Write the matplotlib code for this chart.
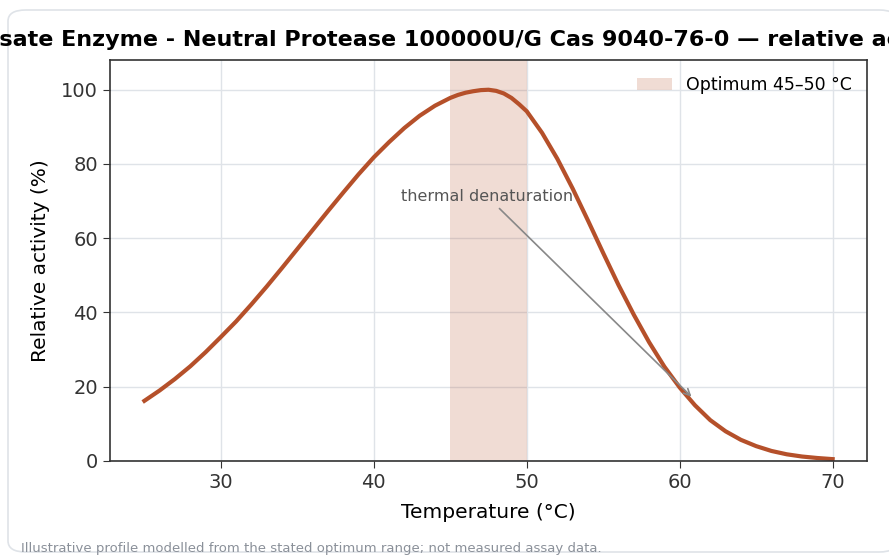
import matplotlib.pyplot as plt
from matplotlib.patches import FancyBboxPatch

# temperature (°C) and relative activity (%)
temps = [25, 26, 27, 28, 29, 30, 31, 32, 33, 34, 35, 36, 37, 38, 39, 40,
         41, 42, 43, 44, 45, 45.5, 46, 46.5, 47, 47.5, 48, 48.5, 49, 49.5,
         50, 51, 52, 53, 54, 55, 56, 57, 58, 59, 60, 61, 62, 63, 64, 65,
         66, 67, 68, 69, 70]
activity = [16.2, 19.0, 22.1, 25.5, 29.3, 33.4, 37.6, 42.2, 47.0, 52.0,
            57.1, 62.2, 67.3, 72.3, 77.2, 81.8, 85.9, 89.7, 93.0, 95.7,
            97.8, 98.6, 99.2, 99.6, 99.9, 100.0, 99.7, 99.0, 97.8, 96.1,
            94.2, 88.4, 81.4, 73.4, 64.8, 56.0, 47.4, 39.4, 32.0, 25.4,
            19.8, 15.0, 11.0, 8.0, 5.7, 4.0, 2.7, 1.8, 1.2, 0.8, 0.5]
opt_range = (45, 50)
line_color = '#b5502a'
title = 'Hydrolysate Enzyme - Neutral Protease 100000U/G Cas 9040-76-0 — relative activity'

fig = plt.figure(figsize=(8.89, 5.56), dpi=100)
ax = fig.add_axes([0.1237, 0.1709, 0.8516, 0.7211])

# card outline behind everything
card = FancyBboxPatch((8 / 889, 4 / 556), 1.0, 542 / 556,
                      boxstyle='round,pad=0,rounding_size=0.02',
                      transform=fig.transFigure, facecolor='white',
                      edgecolor='#dfe3e8', linewidth=1.2, zorder=-10)
fig.patches.append(card)

ax.axvspan(opt_range[0], opt_range[1], color=line_color, alpha=0.2,
           linewidth=0, label='Optimum 45–50 °C')
ax.plot(temps, activity, color=line_color, linewidth=3)

ax.annotate('thermal denaturation', xy=(60.9, 16.8), xytext=(47.4, 71.3),
            ha='center', va='center', fontsize=11.5, color='#555555',
            arrowprops=dict(arrowstyle='->', color='#888888', lw=1.2))

ax.set_ylim(0, 108)
ax.set_xticks([30, 40, 50, 60, 70])
ax.set_yticks([0, 20, 40, 60, 80, 100])
ax.grid(True, color='#dfe3e8', linewidth=1)
ax.set_axisbelow(True)
ax.tick_params(labelsize=14, colors='#333333', length=5)
for s in ax.spines.values():
    s.set_color('#333333')
    s.set_linewidth(1.2)

ax.set_xlabel('Temperature (°C)', fontsize=14.5, labelpad=8)
ax.set_ylabel('Relative activity (%)', fontsize=14.5, labelpad=8)
ax.legend(loc='upper right', frameon=False, fontsize=12.5)

# title is wider than the card; place it so the visible part matches
renderer = fig.canvas.get_renderer()
probe = fig.text(0, 0, 'Hydroly', fontsize=16, fontweight='bold')
w_prefix = probe.get_window_extent(renderer).width
probe.remove()
fig.text((-1 - w_prefix) / 889, 1 - 40 / 556, title, fontsize=16,
         fontweight='bold', ha='left', va='center')

fig.text(21 / 889, 1 / 556, 'Illustrative profile modelled from the stated optimum range; not measured assay data.',
         fontsize=9.5, color='#8a9099', ha='left', va='bottom')

fig.savefig('out.png', dpi=100)
